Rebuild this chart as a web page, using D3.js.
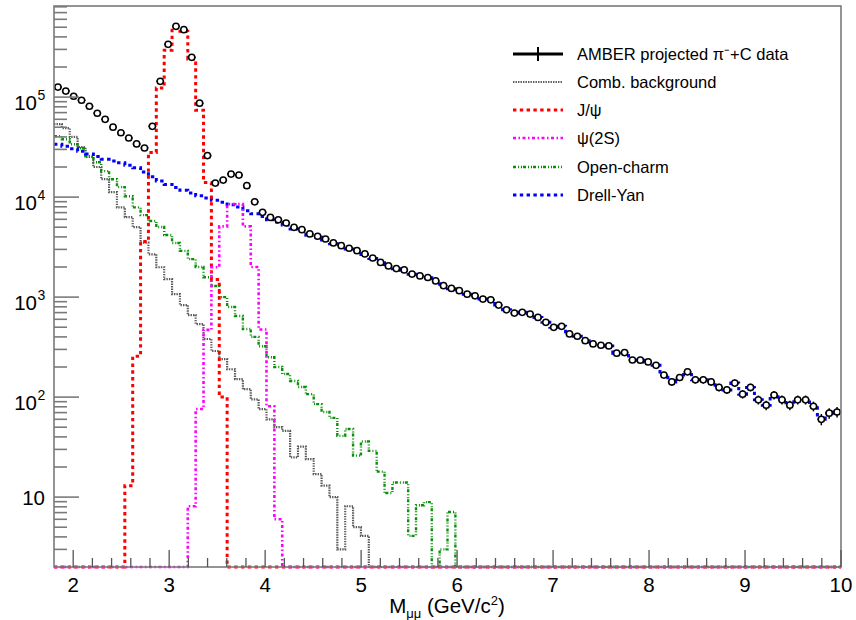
<!DOCTYPE html>
<html>
<head>
<meta charset="utf-8">
<script src="https://cdn.jsdelivr.net/npm/d3@7"></script>
<style>
  body { margin: 0; background: #fff; }
  svg { display: block; }
  text { font-family: "Liberation Sans", Arial, Helvetica, sans-serif; fill: #000; }
</style>
</head>
<body>
<svg id="chart" width="856" height="620"></svg>
<script>
// Histogram binning: 100 bins of 82 MeV from 1.8 to 10 GeV/c^2
const binLow = 1.8, binWidth = 0.082, nBins = 100;

// Projected data (entries per bin)
const dataCounts = [
  126000, 115000, 102000, 93000, 81000, 69000, 60000, 50000, 44000, 39000,
  34000, 31000, 51000, 144000, 337000, 510000, 472000, 250000, 87000, 26000,
  13800, 14800, 17000, 16600, 13000, 8980, 7040, 6270, 5940, 5510,
  4990, 4720, 4280, 4060, 3810, 3480, 3270, 3080, 2910, 2700,
  2460, 2220, 2050, 1930, 1870, 1700, 1630, 1570, 1450, 1300,
  1220, 1160, 1070, 1030, 955, 940, 832, 747, 692, 704,
  677, 627, 559, 499, 510, 428, 406, 367, 340, 330,
  325, 275, 279, 235, 234, 225, 208, 166, 142, 157,
  179, 149, 149, 142, 125, 118, 138, 107, 125, 94,
  83, 105, 94, 83, 94, 94, 81, 60, 69, 71
];

// Combinatorial background
const combBackground = [
  53700, 49000, 40000, 31700, 25200, 20000, 15100, 11200, 7900, 6300,
  5000, 3500, 2680, 1990, 1510, 1070, 832, 661, 538, 381,
  289, 240, 190, 151, 120, 95, 76, 60, 50, 46,
  25, 32, 24, 17, 13, 10, 3.0, 8.1, 5.0, 4.1,
  0, 0, 0, 0, 0, 0, 0, 0, 0, 0,
  0, 0, 0, 0, 0, 0, 0, 0, 0, 0,
  0, 0, 0, 0, 0, 0, 0, 0, 0, 0,
  0, 0, 0, 0, 0, 0, 0, 0, 0, 0,
  0, 0, 0, 0, 0, 0, 0, 0, 0, 0,
  0, 0, 0, 0, 0, 0, 0, 0, 0, 0
];

// J/psi signal
const jpsi = [
  0, 0, 0, 0, 0, 0, 0, 0, 0, 13,
  256, 3600, 28000, 123000, 294000, 490000, 455000, 240000, 74000, 14000,
  1500, 100, 0, 0, 0, 0, 0, 0, 0, 0,
  0, 0, 0, 0, 0, 0, 0, 0, 0, 0,
  0, 0, 0, 0, 0, 0, 0, 0, 0, 0,
  0, 0, 0, 0, 0, 0, 0, 0, 0, 0,
  0, 0, 0, 0, 0, 0, 0, 0, 0, 0,
  0, 0, 0, 0, 0, 0, 0, 0, 0, 0,
  0, 0, 0, 0, 0, 0, 0, 0, 0, 0,
  0, 0, 0, 0, 0, 0, 0, 0, 0, 0
];

// psi(2S) signal
const psi2S = [
  0, 0, 0, 0, 0, 0, 0, 0, 0, 0,
  0, 0, 0, 0, 0, 0, 0, 8.1, 76, 470,
  1990, 5100, 8500, 8500, 5100, 2000, 475, 81, 6, 0,
  0, 0, 0, 0, 0, 0, 0, 0, 0, 0,
  0, 0, 0, 0, 0, 0, 0, 0, 0, 0,
  0, 0, 0, 0, 0, 0, 0, 0, 0, 0,
  0, 0, 0, 0, 0, 0, 0, 0, 0, 0,
  0, 0, 0, 0, 0, 0, 0, 0, 0, 0,
  0, 0, 0, 0, 0, 0, 0, 0, 0, 0,
  0, 0, 0, 0, 0, 0, 0, 0, 0, 0
];

// Open-charm contribution
const openCharm = [
  40600, 37900, 33800, 30800, 25600, 22300, 18200, 15100, 12600, 10200,
  7900, 6600, 5760, 5020, 4180, 3480, 2900, 2400, 2000, 1580,
  1290, 1000, 795, 647, 480, 400, 323, 250, 200, 170,
  145, 126, 107, 85, 71, 62, 41, 48, 26, 36,
  29, 18, 11, 14, 14, 4.1, 8.3, 8.9, 0, 3.0,
  7.1, 0, 0, 0, 0, 0, 0, 0, 0, 0,
  0, 0, 0, 0, 0, 0, 0, 0, 0, 0,
  0, 0, 0, 0, 0, 0, 0, 0, 0, 0,
  0, 0, 0, 0, 0, 0, 0, 0, 0, 0,
  0, 0, 0, 0, 0, 0, 0, 0, 0, 0
];

// Drell-Yan contribution
const drellYan = [
  33700, 32200, 30500, 28700, 27000, 25500, 23900, 23000, 22000, 20800,
  19700, 17800, 16000, 14500, 13400, 12500, 11700, 11000, 10300, 9800,
  9300, 8900, 8400, 7950, 7300, 6800, 6400, 5950, 5600, 5250,
  4800, 4560, 4150, 3960, 3730, 3410, 3230, 3020, 2880, 2660,
  2430, 2200, 2040, 1920, 1860, 1690, 1625, 1565, 1445, 1297,
  1215, 1160, 1070, 1030, 955, 940, 832, 747, 692, 704,
  677, 627, 559, 499, 510, 428, 406, 367, 340, 330,
  325, 275, 279, 235, 234, 225, 208, 166, 142, 157,
  179, 149, 149, 142, 125, 118, 138, 107, 125, 94,
  83, 105, 94, 83, 94, 94, 81, 60, 69, 71
];

const xTickValues = [2, 3, 4, 5, 6, 7, 8, 9, 10];
const yMajorTicks = [10, 100, 1000, 10000, 100000];
const yTickExponents = [1, 2, 3, 4, 5];

const legendLabels = [
  "AMBER projected π\u207B+C data",
  "Comb. background",
  "J/ψ",
  "ψ(2S)",
  "Open-charm",
  "Drell-Yan"
];

// ---------------------------------------------------------------------------
const svg = d3.select("#chart");
const frame = { left: 54, right: 841, top: 6, bottom: 567 };

const x = d3.scaleLinear().domain([1.8, 10]).range([frame.left, frame.right]);
const y = d3.scaleLog().domain([2, 8.15e5]).range([frame.bottom, frame.top]);
const yc = v => (v > 2 ? y(v) : frame.bottom);

const edges = d3.range(nBins + 1).map(i => binLow + i * binWidth);
const centers = d3.range(nBins).map(i => binLow + (i + 0.5) * binWidth);

// Step outline of a histogram
function stepPoints(vals) {
  const pts = [];
  vals.forEach((v, i) => { pts.push([edges[i], v]); pts.push([edges[i + 1], v]); });
  return pts;
}
const stepLine = d3.line().x(d => x(d[0])).y(d => yc(d[1]));

const styles = {
  comb:  { color: "#5a5a5a", width: 2.2, dash: "1.4 1.1" },
  jpsi:  { color: "#ff0000", width: 3,   dash: "3.4 3.4" },
  psi2S: { color: "#ff00ff", width: 2.6, dash: "3 2.5 1.5 2.5" },
  oc:    { color: "#0a8f0a", width: 2.4, dash: "3 2 1 2 1 1" },
  dy:    { color: "#0000ff", width: 3,   dash: "3.4 3.4" }
};

const clipId = "plotClip";
svg.append("clipPath").attr("id", clipId)
  .append("rect").attr("x", frame.left).attr("y", frame.top)
  .attr("width", frame.right - frame.left).attr("height", frame.bottom - frame.top + 4);

const plot = svg.append("g").attr("clip-path", `url(#${clipId})`);

function drawHist(vals, st) {
  plot.append("path")
    .attr("d", stepLine(stepPoints(vals)))
    .attr("fill", "none")
    .attr("stroke", st.color)
    .attr("stroke-width", st.width)
    .attr("stroke-dasharray", st.dash);
}

// ---- frame & axes ----------------------------------------------------------
const axisColor = "#7a7a7a";
const axes = svg.append("g");

// frame first, so the zero-level histogram lines sit on top of the bottom edge
axes.append("rect")
  .attr("x", frame.left).attr("y", frame.top)
  .attr("width", frame.right - frame.left).attr("height", frame.bottom - frame.top)
  .attr("fill", "none").attr("stroke", axisColor).attr("stroke-width", 1.6);

// y axis: log ticks on the inner side of the left edge
const yMinor = [];
[1, 10, 100, 1000, 10000, 100000].forEach(dec => {
  d3.range(2, 10).forEach(m => {
    const v = m * dec;
    if (v > 2 && v < 8.15e5 && !yMajorTicks.includes(v)) yMinor.push(v);
  });
});
axes.selectAll("line.ymin").data(yMinor).join("line")
  .attr("x1", frame.left).attr("x2", frame.left + 13)
  .attr("y1", d => y(d)).attr("y2", d => y(d))
  .attr("stroke", axisColor).attr("stroke-width", 1.6);
axes.selectAll("line.ymaj").data(yMajorTicks).join("line")
  .attr("x1", frame.left).attr("x2", frame.left + 25)
  .attr("y1", d => y(d)).attr("y2", d => y(d))
  .attr("stroke", axisColor).attr("stroke-width", 1.6);

// y labels: "10" and 10^n
yMajorTicks.forEach((v, i) => {
  const e = yTickExponents[i];
  const ty = y(v);
  if (e === 1) {
    svg.append("text").attr("x", 45).attr("y", ty + 7.5)
      .attr("text-anchor", "end").attr("font-size", 20.5).text("10");
  } else {
    svg.append("text").attr("x", 37).attr("y", ty + 12.5)
      .attr("text-anchor", "end").attr("font-size", 20.5).text("10");
    svg.append("text").attr("x", 37.5).attr("y", ty + 2.5)
      .attr("text-anchor", "start").attr("font-size", 14).text(String(e));
  }
});

// x axis: major ticks at integers, minor every 0.2 GeV
const xMinor = d3.range(2, 10.001, 0.2).map(d => +d.toFixed(1)).filter(d => Math.abs(d - Math.round(d)) > 0.01);
axes.selectAll("line.xmin").data(xMinor).join("line")
  .attr("x1", d => x(d)).attr("x2", d => x(d))
  .attr("y1", frame.bottom).attr("y2", frame.bottom - 9)
  .attr("stroke", "#555").attr("stroke-width", 1.3);
axes.selectAll("line.xmaj").data(xTickValues).join("line")
  .attr("x1", d => x(d)).attr("x2", d => x(d))
  .attr("y1", frame.bottom).attr("y2", frame.bottom - 17)
  .attr("stroke", "#555").attr("stroke-width", 1.3);
svg.selectAll("text.xl").data(xTickValues).join("text")
  .attr("x", d => x(d)).attr("y", 592)
  .attr("text-anchor", "middle").attr("font-size", 20.5)
  .text(d => d);

// axis title
const title = svg.append("text").attr("x", 447).attr("y", 613)
  .attr("text-anchor", "middle").attr("font-size", 20.5);
title.append("tspan").text("M");
title.append("tspan").attr("font-size", 13).attr("dy", 5).text("μμ");
title.append("tspan").attr("dy", -5).text(" (GeV/c");
title.append("tspan").attr("font-size", 13).attr("dy", -8).text("2");
title.append("tspan").attr("dy", 8).text(")");

// ---- histograms -------------------------------------------------------------
drawHist(combBackground, styles.comb);
drawHist(openCharm, styles.oc);
drawHist(drellYan, styles.dy);
drawHist(jpsi, styles.jpsi);
drawHist(psi2S, styles.psi2S);

// ---- data points with error bars -------------------------------------------
const pts = plot.append("g");
const halfW = x(binLow + binWidth / 2) - x(binLow);
dataCounts.forEach((n, i) => {
  const cx = x(centers[i]), cy = y(n);
  const err = Math.sqrt(n);
  pts.append("line").attr("x1", cx - halfW).attr("x2", cx + halfW)
    .attr("y1", cy).attr("y2", cy).attr("stroke", "#000").attr("stroke-width", 1.5);
  pts.append("line").attr("x1", cx).attr("x2", cx)
    .attr("y1", y(n + err)).attr("y2", y(n - err)).attr("stroke", "#000").attr("stroke-width", 1.5);
});
pts.selectAll("circle").data(dataCounts).join("circle")
  .attr("cx", (d, i) => x(centers[i])).attr("cy", d => y(d))
  .attr("r", 3.1)
  .attr("fill", "#fff").attr("stroke", "#000").attr("stroke-width", 1.5);

// ---- legend -----------------------------------------------------------------
const legend = svg.append("g");
const rowY = [54, 82, 110, 138, 167, 195];
const lx0 = 513, lx1 = 563, tx = 577;
const legendStyles = [null, styles.comb, styles.jpsi, styles.psi2S, styles.oc, styles.dy];
legendLabels.forEach((lab, i) => {
  const ly = rowY[i];
  if (i === 0) {
    legend.append("line").attr("x1", lx0).attr("x2", lx1).attr("y1", ly).attr("y2", ly)
      .attr("stroke", "#000").attr("stroke-width", 3);
    legend.append("line").attr("x1", (lx0 + lx1) / 2).attr("x2", (lx0 + lx1) / 2)
      .attr("y1", ly - 7).attr("y2", ly + 7).attr("stroke", "#000").attr("stroke-width", 2);
  } else {
    const st = legendStyles[i];
    legend.append("line").attr("x1", lx0).attr("x2", lx1).attr("y1", ly).attr("y2", ly)
      .attr("stroke", st.color).attr("stroke-width", st.width)
      .attr("stroke-dasharray", st.dash);
  }
  legend.append("text").attr("x", tx).attr("y", ly + 6)
    .attr("font-size", 16.5).text(lab);
});
</script>
</body>
</html>
